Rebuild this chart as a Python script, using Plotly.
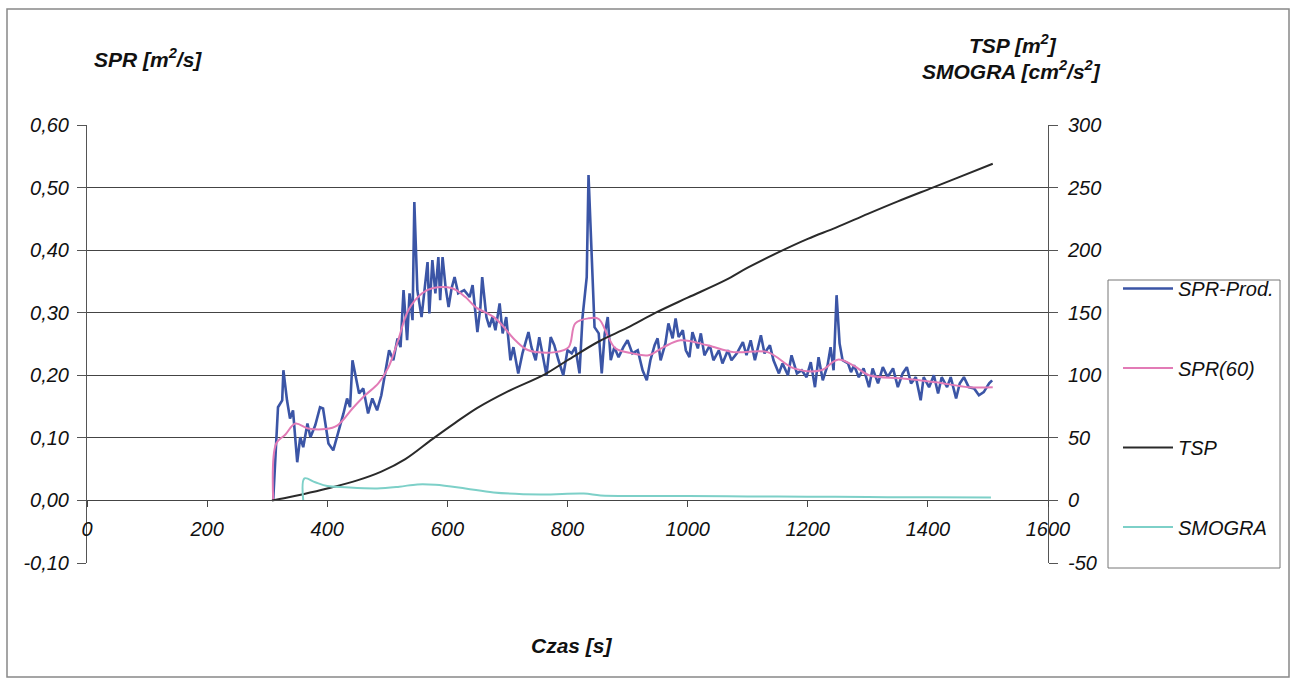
import plotly.graph_objects as go

# ---------------- data ----------------
spr_t = [310, 318, 325, 327, 333, 338, 343, 350, 355, 360, 367, 372, 380, 388, 393, 402, 410, 418,
         427, 433, 438, 442, 448, 453, 460, 468, 475, 483, 490, 497, 503, 510, 517, 522, 527, 533,
         537, 542, 545, 550, 557, 567, 570, 575, 580, 585, 588, 592, 597, 602, 607, 612, 618, 628,
         637, 642, 650, 655, 658, 665, 670, 675, 680, 687, 692, 698, 705, 710, 718, 725, 735, 740,
         747, 753, 758, 765, 772, 778, 785, 793, 800, 807, 813, 820, 825, 832, 835, 840, 845, 852,
         857, 862, 867, 872, 878, 885, 893, 900, 908, 917, 925, 932, 938, 945, 950, 955, 963, 968,
         975, 980, 985, 992, 997, 1003, 1008, 1017, 1022, 1028, 1037, 1043, 1052, 1058, 1067, 1073,
         1082, 1092, 1098, 1105, 1112, 1122, 1128, 1137, 1143, 1152, 1158, 1167, 1173, 1182, 1190,
         1198, 1205, 1212, 1218, 1225, 1233, 1238, 1243, 1248, 1253, 1258, 1267, 1272, 1277, 1285,
         1293, 1302, 1308, 1317, 1325, 1333, 1342, 1350, 1358, 1365, 1372, 1380, 1388, 1393, 1402,
         1410, 1417, 1423, 1432, 1438, 1447, 1453, 1460, 1468, 1477, 1485, 1493, 1502, 1507]
spr_v = [0.0, 0.149, 0.16, 0.208, 0.16, 0.131, 0.144, 0.061, 0.101, 0.085, 0.123, 0.101, 0.12, 0.149,
         0.147, 0.091, 0.08, 0.107, 0.139, 0.163, 0.149, 0.224, 0.197, 0.171, 0.179, 0.139, 0.163,
         0.144, 0.168, 0.208, 0.24, 0.224, 0.259, 0.245, 0.336, 0.256, 0.331, 0.288, 0.477, 0.336,
         0.293, 0.381, 0.299, 0.384, 0.331, 0.389, 0.32, 0.389, 0.341, 0.309, 0.339, 0.357, 0.331,
         0.336, 0.325, 0.344, 0.269, 0.309, 0.357, 0.293, 0.277, 0.293, 0.272, 0.315, 0.267, 0.293,
         0.224, 0.245, 0.203, 0.235, 0.269, 0.245, 0.224, 0.261, 0.235, 0.2, 0.261, 0.248, 0.224,
         0.2, 0.24, 0.235, 0.245, 0.203, 0.293, 0.357, 0.52, 0.4, 0.277, 0.267, 0.203, 0.267, 0.293,
         0.224, 0.245, 0.229, 0.245, 0.256, 0.235, 0.24, 0.208, 0.192, 0.224, 0.248, 0.259, 0.224,
         0.251, 0.283, 0.259, 0.291, 0.261, 0.272, 0.24, 0.229, 0.269, 0.243, 0.267, 0.232, 0.248,
         0.224, 0.24, 0.219, 0.24, 0.224, 0.235, 0.253, 0.232, 0.256, 0.224, 0.264, 0.235, 0.248,
         0.224, 0.203, 0.219, 0.2, 0.232, 0.203, 0.208, 0.197, 0.221, 0.181, 0.229, 0.192, 0.216,
         0.245, 0.208, 0.328, 0.251, 0.224, 0.219, 0.205, 0.216, 0.197, 0.211, 0.181, 0.211, 0.187,
         0.213, 0.197, 0.211, 0.181, 0.203, 0.213, 0.187, 0.197, 0.16, 0.197, 0.181, 0.2, 0.171,
         0.197, 0.181, 0.197, 0.163, 0.187, 0.197, 0.181, 0.179, 0.168, 0.173, 0.187, 0.192]

spr60_t = [310, 315, 330, 347, 368, 397, 417, 442, 463, 485, 502, 518, 535, 558, 575, 608, 630, 647,
           680, 713, 735, 780, 802, 813, 835, 852, 868, 880, 908, 935, 960, 988, 1033, 1077, 1133,
           1177, 1222, 1250, 1277, 1302, 1358, 1413, 1468, 1508]
spr60_v = [0.0, 0.091, 0.105, 0.123, 0.115, 0.114, 0.12, 0.147, 0.168, 0.187, 0.213, 0.256, 0.304,
           0.331, 0.339, 0.339, 0.325, 0.309, 0.291, 0.256, 0.24, 0.237, 0.245, 0.283, 0.291, 0.29,
           0.261, 0.243, 0.235, 0.232, 0.245, 0.256, 0.248, 0.237, 0.237, 0.211, 0.208, 0.225,
           0.215, 0.2, 0.195, 0.189, 0.181, 0.181]

tsp_t = [308, 330, 360, 400, 450, 490, 530, 575, 613, 650, 700, 763, 800, 852, 900, 947, 1000,
         1063, 1100, 1150, 1200, 1247, 1300, 1350, 1408, 1450, 1508]
tsp_v = [0, 2, 5, 9.5, 16, 23, 33, 49, 62, 74, 87, 101, 112, 127, 138, 150, 162, 176, 186, 198,
         209, 218, 229, 239, 250, 258, 269]

smogra_t = [360, 362, 380, 400, 430, 483, 520, 550, 580, 630, 677, 755, 827, 855, 920, 1000, 1100,
            1200, 1300, 1400, 1505]
smogra_v = [0, 17.6, 14.5, 11.5, 10.5, 9.6, 11, 12.8, 12.5, 9.6, 6.4, 4.8, 5.5, 4.0, 3.6, 3.5, 3.2,
            3.0, 2.7, 2.5, 2.3]

y1_ticks = [-0.1, 0.0, 0.1, 0.2, 0.3, 0.4, 0.5, 0.6]
y1_labels = ["-0,10", "0,00", "0,10", "0,20", "0,30", "0,40", "0,50", "0,60"]
y2_ticks = [-50, 0, 50, 100, 150, 200, 250, 300]
y2_labels = ["-50", "0", "50", "100", "150", "200", "250", "300"]
x_ticks = [0, 200, 400, 600, 800, 1000, 1200, 1400, 1600]
x_labels = ["0", "200", "400", "600", "800", "1000", "1200", "1400", "1600"]

# ---------------- figure ----------------
FONT = "Liberation Sans, Arial, sans-serif"
W, H = 1292, 681
L, R, T, B = 87, 1048, 125, 563  # plot area in page pixels


def px(x):
    return (x - L) / (R - L)


def py(y):
    return (B - y) / (B - T)


fig = go.Figure()
fig.add_trace(go.Scatter(x=spr_t, y=spr_v, mode="lines", name="SPR-Prod.", legendgroup="a",
                         line=dict(color="#3B55A6", width=2.6), yaxis="y"))
fig.add_trace(go.Scatter(x=spr60_t, y=spr60_v, mode="lines", name="SPR(60)", legendgroup="b",
                         line=dict(color="#E27BB6", width=2, shape="spline"), yaxis="y"))
fig.add_trace(go.Scatter(x=tsp_t, y=tsp_v, mode="lines", name="TSP", legendgroup="c",
                         line=dict(color="#2A2A2A", width=2, shape="spline"), yaxis="y2"))
fig.add_trace(go.Scatter(x=smogra_t, y=smogra_v, mode="lines", name="SMOGRA", legendgroup="d",
                         line=dict(color="#7DD0C8", width=2, shape="spline"), yaxis="y2"))

tick_font = dict(family=FONT, size=20, color="#111", style="italic")
title_font = dict(family=FONT, size=21, color="#111", weight="bold", style="italic")

fig.update_layout(
    width=W, height=H, autosize=False,
    margin=dict(l=L, r=W - R, t=T, b=H - B),
    paper_bgcolor="white", plot_bgcolor="white",
    showlegend=True,
    xaxis=dict(range=[0, 1600], tickvals=x_ticks, ticktext=x_labels, showgrid=False,
               zeroline=False, showline=True, linecolor="#444", linewidth=1,
               ticks="outside", ticklen=6, tickcolor="#444", tickfont=tick_font,
               anchor="free", position=py(500), ticklabelstandoff=5),
    yaxis=dict(range=[-0.1, 0.6], tickvals=y1_ticks, ticktext=y1_labels, showgrid=True,
               gridcolor="#444", gridwidth=1, zeroline=False, showline=True, linecolor="#555",
               ticks="outside", ticklen=9, tickcolor="#555", tickfont=tick_font,
               ticklabelstandoff=4),
    yaxis2=dict(range=[-50, 300], tickvals=y2_ticks, ticktext=y2_labels, overlaying="y",
                side="right", showgrid=False, zeroline=False, showline=True, linecolor="#555",
                ticks="outside", ticklen=9, tickcolor="#555", tickfont=tick_font,
                ticklabelstandoff=6),
    legend=dict(x=px(1118), y=py(269), xanchor="left", yanchor="top",
                font=dict(family=FONT, size=20, color="#111", style="italic"),
                bgcolor="rgba(0,0,0,0)", borderwidth=0,
                traceorder="grouped", tracegroupgap=50.5, entrywidth=130,
                itemwidth=50),
    shapes=[
        dict(type="rect", xref="paper", yref="paper", x0=px(7), x1=px(1289),
             y0=py(677), y1=py(9), line=dict(color="#888", width=1.5),
             fillcolor="rgba(0,0,0,0)", layer="below"),
        dict(type="rect", xref="paper", yref="paper", x0=px(1108), x1=px(1280),
             y0=py(568), y1=py(280), line=dict(color="#777", width=1),
             fillcolor="white", layer="below"),
    ],
    annotations=[
        dict(text="SPR [m<sup>2</sup>/s]", xref="paper", yref="paper", x=px(92), y=py(58),
             xanchor="left", yanchor="middle", showarrow=False, font=title_font),
        dict(text="TSP [m<sup>2</sup>]", xref="paper", yref="paper", x=px(1013), y=py(44),
             xanchor="center", yanchor="middle", showarrow=False, font=title_font),
        dict(text="SMOGRA [cm<sup>2</sup>/s<sup>2</sup>]", xref="paper", yref="paper",
             x=px(1011), y=py(70), xanchor="center", yanchor="middle", showarrow=False,
             font=title_font),
        dict(text="Czas [s]", xref="paper", yref="paper", x=px(572), y=py(645),
             xanchor="center", yanchor="middle", showarrow=False, font=title_font),
    ],
)

fig.write_html(
    "out.html",
    config={"responsive": False, "displayModeBar": False},
    post_script="document.body.style.margin='0px';document.body.style.overflow='hidden';",
)
